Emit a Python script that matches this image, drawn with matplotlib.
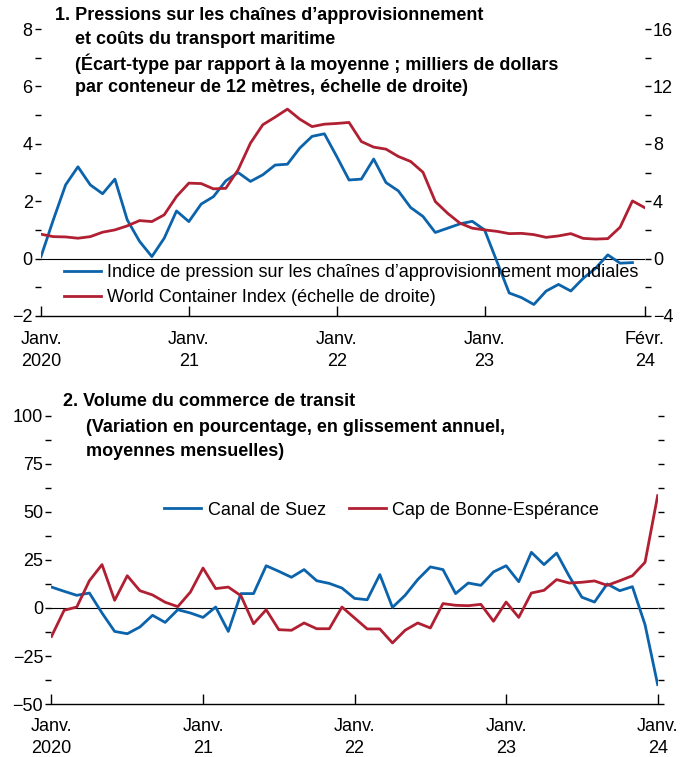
import numpy as np
import matplotlib
matplotlib.use("Agg")
import matplotlib.pyplot as plt

plt.rcParams['font.family'] = ['Liberation Sans', 'DejaVu Sans']

# panel 1: monthly, Jan 2020 onwards
gscpi = [0.07, 1.35, 2.57, 3.2, 2.57, 2.26, 2.77, 1.35, 0.6, 0.07, 0.71, 1.66,
         1.29, 1.9, 2.16, 2.71, 3.0, 2.69, 2.92, 3.26, 3.29, 3.85, 4.26, 4.35,
         3.56, 2.74, 2.77, 3.47, 2.65, 2.36, 1.78, 1.47, 0.91, 1.06, 1.21, 1.30,
         1.0, -0.1, -1.2, -1.36, -1.6, -1.13, -0.9, -1.13, -0.69, -0.34, 0.13, -0.16,
         -0.14]
wci = [1.70, 1.53, 1.51, 1.42, 1.53, 1.84, 2.0, 2.28, 2.65, 2.58, 3.05, 4.33,
       5.26, 5.23, 4.86, 4.9, 6.19, 8.05, 9.33, 9.86, 10.42, 9.72, 9.2, 9.37,
       9.42, 9.49, 8.16, 7.77, 7.63, 7.12, 6.77, 6.02, 3.98, 3.16, 2.47, 2.12,
       2.0, 1.9, 1.74, 1.76, 1.67, 1.48, 1.58, 1.74, 1.41, 1.36, 1.39, 2.19,
       4.02, 3.55]
x1_labels = ["Janv.\n2020", "Janv.\n21", "Janv.\n22", "Janv.\n23", "Févr.\n24"]
x1_ticks = [0, 12, 24, 36, 49]

# panel 2
suez = [10.9, 8.7, 6.6, 7.8, -2.6, -12.2, -13.4, -9.9, -3.8, -7.5, -0.9, -2.6,
        -4.9, 0.5, -12.2, 7.5, 7.5, 22, 19.1, 16, 20, 14.2, 12.8, 10.4,
        5.0, 4.3, 17.4, 0.3, 6.6, 14.8, 21.4, 20, 7.5, 13, 11.8, 18.8,
        22, 13.7, 29, 22.6, 28.6, 16.5, 5.6, 3.1, 12.5, 9, 11.1, -8.7,
        -39.9]
cape = [-14.8, -1.2, 0.5, 14.2, 22.6, 4.0, 16.8, 9.0, 6.8, 3.0, 0.7, 8.3,
        20.8, 10.1, 10.9, 6.4, -8.2, -0.9, -11.3, -11.6, -7.8, -10.8, -10.8, 0.5,
        -5.2, -10.9, -10.9, -18.2, -11.6, -7.8, -10.4, 2.3, 1.4, 1.2, 1.9, -6.9,
        3.1, -4.9, 7.8, 9.2, 14.8, 13.0, 13.4, 14.1, 11.8, 14.2, 16.8, 23.8,
        58.5]
x2_labels = ["Janv.\n2020", "Janv.\n21", "Janv.\n22", "Janv.\n23", "Janv.\n24"]
x2_ticks = [0, 12, 24, 36, 48]

title1 = ["1. Pressions sur les chaînes d\u2019approvisionnement",
          "et coûts du transport maritime",
          "(Écart-type par rapport à la moyenne ; milliers de dollars",
          "par conteneur de 12 mètres, échelle de droite)"]
title2 = ["2. Volume du commerce de transit",
          "(Variation en pourcentage, en glissement annuel,",
          "moyennes mensuelles)"]

blue = "#0b63ab"
red = "#b01f32"
fs = 13
tfs = 13

W, H = 683, 757
fig = plt.figure(figsize=(W / 100, H / 100), dpi=100)


def style(ax, xticks, xlabels, xpad):
    for s in ["top", "left", "right"]:
        ax.spines[s].set_visible(False)
    ax.spines["bottom"].set_linewidth(1.0)
    ax.set_xticks(xticks)
    ax.set_xticklabels(xlabels, fontsize=fs, linespacing=1.4)
    ax.tick_params(axis="x", direction="in", length=7, width=1.0, pad=xpad)
    ax.tick_params(axis="y", which="both", direction="out", length=4, width=1.0,
                   labelsize=fs, pad=2)
    ax.axhline(0, color="black", lw=0.8, zorder=1)


def title(lines, x0, x1, ys):
    for i, (t, y) in enumerate(zip(lines, ys)):
        fig.text((x0 if i == 0 else x1) / W, 1 - y / H, t, fontsize=tfs,
                 fontweight="bold", va="center")


# ---- panel 1
ax1 = fig.add_axes([0.060, 0.5826, 0.884, 0.379])
ax1b = ax1.twinx()
ax1.plot(np.arange(len(gscpi)), gscpi, color=blue, lw=2.0, zorder=3,
         label="Indice de pression sur les chaînes d\u2019approvisionnement mondiales")
ax1b.plot(np.arange(len(wci)), wci, color=red, lw=2.0, zorder=3,
          label="World Container Index (échelle de droite)")
ax1.set_xlim(0, 49)
ax1.set_ylim(-2, 8)
ax1b.set_ylim(-4, 16)
ax1.set_yticks([-2, 0, 2, 4, 6, 8])
ax1.set_yticklabels(["\u22122", "0", "2", "4", "6", "8"])
ax1.set_yticks([-1, 1, 3, 5, 7], minor=True)
ax1b.set_yticks([-4, 0, 4, 8, 12, 16])
ax1b.set_yticklabels(["\u22124", "0", "4", "8", "12", "16"])
ax1b.set_yticks([-2, 2, 6, 10, 14], minor=True)
style(ax1, x1_ticks, x1_labels, 11)
for s in ["top", "left", "right", "bottom"]:
    ax1b.spines[s].set_visible(False)
ax1b.tick_params(axis="y", which="both", direction="out", length=4, width=1.0,
                 labelsize=fs, pad=2)

h1, l1 = ax1.get_legend_handles_labels()
h2, l2 = ax1b.get_legend_handles_labels()
ax1.legend(h1 + h2, l1 + l2, loc="upper left", bbox_to_anchor=(0.026, 0.205),
           frameon=False, fontsize=fs, handlelength=2.05, handletextpad=0.35,
           labelspacing=0.42, borderaxespad=0)

title(title1, 55, 75, [16, 40, 64, 88])

# ---- panel 2
ax2 = fig.add_axes([0.0754, 0.070, 0.8875, 0.3805])
ax2.plot(np.arange(len(suez)), suez, color=blue, lw=2.0, zorder=3, label="Canal de Suez")
ax2.plot(np.arange(len(cape)), cape, color=red, lw=2.0, zorder=3, label="Cap de Bonne-Espérance")
ax2.set_xlim(0, 48)
ax2.set_ylim(-50, 100)
ax2.set_yticks([-50, -25, 0, 25, 50, 75, 100])
ax2.set_yticklabels(["\u221250", "\u221225", "0", "25", "50", "75", "100"])
ax2.set_yticks([-37.5, -12.5, 12.5, 37.5, 62.5, 87.5], minor=True)
style(ax2, x2_ticks, x2_labels, 10)
ax2.tick_params(axis="y", which="both", right=True)
ax2.legend(loc="upper left", bbox_to_anchor=(0.174, 0.728), ncol=2, frameon=False,
           fontsize=fs, handlelength=2.05, handletextpad=0.35, columnspacing=1.3,
           borderaxespad=0)

title(title2, 63, 86, [402, 427, 451])

fig.savefig("out.png", dpi=100)
